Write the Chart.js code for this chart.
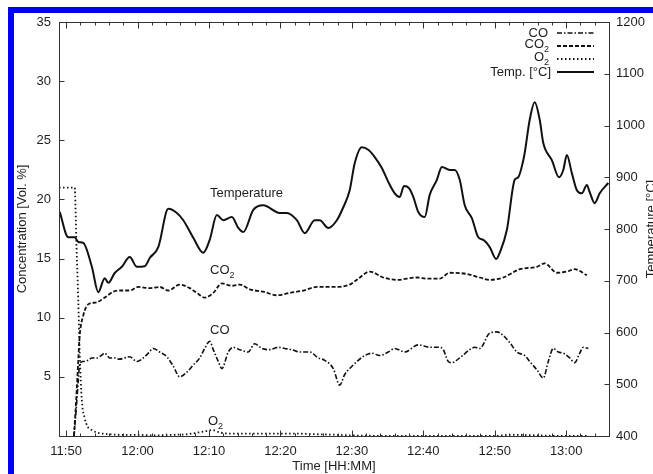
<!DOCTYPE html>
<html><head><meta charset="utf-8">
<script src="https://cdn.jsdelivr.net/npm/chart.js@4.4.1/dist/chart.umd.min.js"></script>
<style>
html,body{margin:0;padding:0;background:#fff;overflow:hidden}
#wrap{position:relative;width:653px;height:474px;background:#fff}
canvas{position:absolute;left:0;top:0}
.bl{position:absolute;left:8px;top:7px;width:6px;height:467px;background:#0000f2}
.bt{position:absolute;left:8px;top:7px;width:645px;height:6px;background:#0000f2}
</style></head><body>
<div id="wrap"><canvas id="c" width="653" height="474"></canvas><div class="bl"></div><div class="bt"></div></div>
<script>
// minutes after 11:50
const xTickValues = [0,10,20,30,40,50,60,70];
const xTickLabels = ['11:50','12:00','12:10','12:20','12:30','12:40','12:50','13:00'];
const leftTickValues = [5,10,15,20,25,30,35];
const rightTickValues = [400,500,600,700,800,900,1000,1100,1200];

const tempMinutes = [-0.9,0.3,1.2,1.7,2.4,3.6,4.5,5.4,5.9,6.8,7.8,8.9,9.9,11.0,11.7,12.9,14.3,15.5,16.4,17.8,19.2,20.1,21.1,22.0,23.2,24.1,24.8,26.2,27.6,29.9,30.9,32.3,33.4,34.8,35.5,36.7,37.9,38.8,39.7,40.4,41.4,42.3,43.2,44.2,45.1,46.0,46.7,47.3,48.0,48.6,49.3,50.2,50.9,51.9,52.6,53.7,54.4,55.1,55.8,56.8,57.7,58.4,59.3,60.2,60.7,61.7,62.8,63.3,64.0,64.2,64.9,65.6,66.3,66.8,68.0,69.0,69.6,70.1,70.8,71.5,72.2,72.9,73.3,74.0,74.7,75.9];
const tempValues = [833,784,784,775,773,727,678,705,696,715,727,746,727,728,744,765,839,831,817,783,754,779,827,817,823,802,794,837,846,831,831,817,792,817,817,802,817,842,875,927,958,953,939,918,891,869,862,883,879,862,833,823,866,895,920,914,914,895,846,821,784,779,765,742,754,798,895,900,933,947,1011,1045,1011,966,933,900,914,943,908,875,869,885,871,850,869,889];

const co2Minutes = [1.1,1.4,1.7,1.9,2.4,2.8,3.3,4.3,5.4,6.6,7.5,8.9,10.1,11.7,13.1,14.3,15.9,17.3,18.3,19.4,20.6,21.8,23.2,24.3,25.7,27.6,29.5,31.3,33.2,35.1,37.4,39.7,40.7,42.5,44.4,46.3,49.1,50.5,52.3,53.7,56.1,57.9,59.3,61.2,63.5,65.9,67.0,68.7,70.1,71.2,72.9];
const co2Values = [0,3.0,6.4,8.5,10.2,10.9,11.2,11.3,11.7,12.2,12.3,12.3,12.6,12.5,12.6,12.3,12.8,12.5,12.1,11.7,12.1,12.9,12.7,12.8,12.4,12.2,11.9,12.1,12.3,12.6,12.6,12.8,13.2,13.9,13.4,13.2,13.4,13.3,13.3,13.8,13.7,13.4,13.2,13.4,14.1,14.3,14.6,13.8,13.9,14.1,13.6];

const coMinutes = [1.1,1.4,1.7,1.9,2.4,3.1,3.6,4.3,4.9,5.4,6.1,6.8,7.5,8.2,8.9,9.9,10.8,11.5,12.2,13.1,14.1,15.0,15.9,16.9,17.8,18.7,19.4,20.1,20.6,21.3,21.8,22.7,23.4,24.3,25.5,26.4,27.4,28.5,29.7,30.6,31.6,32.7,34.1,35.3,36.2,37.4,38.3,39.0,39.7,40.9,41.8,42.8,43.9,45.1,46.0,47.4,49.3,50.9,52.3,52.8,53.5,54.0,55.1,56.5,57.2,57.9,59.3,60.3,61.0,62.1,63.1,64.2,64.9,65.9,66.8,67.5,68.2,68.9,69.6,70.5,71.2,71.9,72.4,73.1];
const coValues = [0,2.2,4.7,6.1,6.3,6.4,6.6,6.6,6.8,7.0,6.6,6.6,6.5,6.6,6.7,6.3,6.6,7.0,7.4,7.1,6.7,5.9,5.0,5.4,6.0,6.6,7.4,8.0,7.3,6.3,5.7,7.1,7.5,7.3,7.1,7.8,7.4,7.3,7.5,7.4,7.3,7.1,7.1,6.6,6.4,5.7,4.3,5.2,5.7,6.4,6.8,7.0,6.8,7.1,7.4,7.1,7.7,7.5,7.5,7.3,6.3,6.2,6.6,7.3,7.5,7.4,8.7,8.8,8.6,7.9,7.1,6.8,6.3,5.6,4.9,6.3,7.4,7.1,7.0,6.6,6.2,7.0,7.5,7.4];

const o2Minutes = [-1,1.2,1.45,1.7,1.9,2.2,2.6,3.0,3.6,4.3,6,8,10,12,15,17,18.5,19.5,20.5,21.5,23,26,29,32,35,38,40,50,60,62,70,73];
const o2Values = [21,21,16,11.5,7,3,1.5,0.8,0.5,0.3,0.15,0.1,0.1,0.05,0.1,0.15,0.3,0.4,0.5,0.3,0.2,0.2,0.2,0.2,0.15,0.1,0.05,0,0,0.1,0,0];

const FONT = 'Liberation Sans, Arial, Helvetica, sans-serif';
const TXT = '#1e1e1e';
const LINE = '#111111';
const pts = (xs, ys) => xs.map((t, i) => ({x: t, y: ys[i]}));

const dashCO = [5,2,1.5,2];
const dashCO2 = [4,2];
const dashO2 = [1.5,2.5];

function drawSubText(ctx, main, sub, xPos, y, align) {
  ctx.font = '13px ' + FONT;
  const wm = ctx.measureText(main).width;
  ctx.font = '9px ' + FONT;
  const ws = sub ? ctx.measureText(sub).width : 0;
  const x0 = align === 'right' ? xPos - wm - ws : xPos;
  ctx.textAlign = 'left';
  ctx.textBaseline = 'middle';
  ctx.font = '13px ' + FONT;
  ctx.fillText(main, x0, sub ? y - 2 : y);
  if (sub) { ctx.font = '9px ' + FONT; ctx.fillText(sub, x0 + wm, y + 4); }
}

const framePlugin = {
  id: 'frame',
  afterDatasetsDraw(chart) {
    const {ctx, chartArea: a, scales} = chart;
    const x = scales.x, y = scales.y, y2 = scales.y2;
    ctx.save();
    ctx.strokeStyle = '#333';
    ctx.lineWidth = 1;
    const L = Math.round(a.left) + 0.5, R = Math.round(a.right) + 0.5, T = Math.round(a.top) + 0.5, B = Math.round(a.bottom) + 0.5;
    ctx.strokeRect(L, T, R - L, B - T);
    ctx.beginPath();
    for (let m = 0; m <= 74; m += 2) {
      const px = Math.round(x.getPixelForValue(m)) + 0.5;
      const len = m % 10 === 0 ? 6 : 3;
      ctx.moveTo(px, B); ctx.lineTo(px, B - len);
      ctx.moveTo(px, T); ctx.lineTo(px, T + len);
    }
    leftTickValues.forEach(v => { const py = Math.round(y.getPixelForValue(v)) + 0.5; ctx.moveTo(L, py); ctx.lineTo(L + 5, py); });
    rightTickValues.forEach(v => { const py = Math.round(y2.getPixelForValue(v)) + 0.5; ctx.moveTo(R, py); ctx.lineTo(R - 5, py); });
    ctx.stroke();

    // legend
    ctx.fillStyle = TXT;
    const rows = [
      {main: 'CO', sub: '', dash: dashCO, w: 1.6, y: 33},
      {main: 'CO', sub: '2', dash: dashCO2, w: 1.8, y: 46},
      {main: 'O', sub: '2', dash: dashO2, w: 1.8, y: 59},
      {main: 'Temp. [°C]', sub: '', dash: [], w: 2, y: 72}
    ];
    rows.forEach(r => {
      drawSubText(ctx, r.main, r.sub, r.sub ? 549 : (r.main === 'CO' ? 548 : 551), r.y, 'right');
      ctx.beginPath();
      ctx.setLineDash(r.dash);
      ctx.lineWidth = r.w;
      ctx.strokeStyle = LINE;
      ctx.moveTo(557, r.y); ctx.lineTo(594, r.y);
      ctx.stroke();
    });
    ctx.setLineDash([]);

    // in-plot labels
    const lx = x.getPixelForValue(20);
    drawSubText(ctx, 'Temperature', '', lx + 1, 193, 'left');
    drawSubText(ctx, 'CO', '2', lx + 1, 272, 'left');
    drawSubText(ctx, 'CO', '', lx + 1, 330, 'left');
    drawSubText(ctx, 'O', '2', lx - 1, 423, 'left');

    // axis titles
    ctx.font = '13px ' + FONT;
    ctx.textAlign = 'center';
    ctx.textBaseline = 'middle';
    ctx.fillText('Time [HH:MM]', (a.left + a.right) / 2, 466);
    ctx.save();
    ctx.translate(22, (a.top + a.bottom) / 2);
    ctx.rotate(-Math.PI / 2);
    ctx.fillText('Concentration [Vol. %]', 0, 0);
    ctx.restore();
    ctx.save();
    ctx.translate(651, (a.top + a.bottom) / 2);
    ctx.rotate(-Math.PI / 2);
    ctx.fillText('Temperature [°C]', 0, 0);
    ctx.restore();
    ctx.restore();
  }
};

const tickFont = {family: FONT, size: 13};
const plain = (v) => String(v);
const noGrid = {display: false, drawTicks: false};

new Chart(document.getElementById('c'), {
  type: 'line',
  data: {
    datasets: [
      {label: 'Temp. [°C]', data: pts(tempMinutes, tempValues), yAxisID: 'y2', borderColor: LINE, borderWidth: 2, pointRadius: 0, cubicInterpolationMode: 'monotone'},
      {label: 'CO2', data: pts(co2Minutes, co2Values), yAxisID: 'y', borderColor: LINE, borderWidth: 1.8, borderDash: dashCO2, pointRadius: 0, cubicInterpolationMode: 'monotone'},
      {label: 'CO', data: pts(coMinutes, coValues), yAxisID: 'y', borderColor: LINE, borderWidth: 1.6, borderDash: dashCO, pointRadius: 0, cubicInterpolationMode: 'monotone'},
      {label: 'O2', data: pts(o2Minutes, o2Values), yAxisID: 'y', borderColor: LINE, borderWidth: 1.8, borderDash: dashO2, pointRadius: 0, cubicInterpolationMode: 'monotone'}
    ]
  },
  options: {
    responsive: false,
    animation: false,
    devicePixelRatio: 1,
    layout: {padding: {top: 22, left: 0, right: 0, bottom: 0}},
    plugins: {legend: {display: false}, tooltip: {enabled: false}},
    scales: {
      x: {
        type: 'linear', min: -1, max: 76,
        grid: noGrid, border: {display: false},
        ticks: {font: tickFont, color: TXT, padding: 8, maxRotation: 0, autoSkip: false,
          callback: (v) => { const i = xTickValues.indexOf(v); return i >= 0 ? xTickLabels[i] : ''; }},
        afterBuildTicks: (s) => { s.ticks = xTickValues.map(v => ({value: v})); },
        afterFit: (s) => { s.height = 38; }
      },
      y: {
        position: 'left', min: 0, max: 35,
        grid: noGrid, border: {display: false},
        ticks: {font: tickFont, color: TXT, padding: 8, callback: plain},
        afterBuildTicks: (s) => { s.ticks = leftTickValues.map(v => ({value: v})); },
        afterFit: (s) => { s.width = 59; }
      },
      y2: {
        position: 'right', min: 400, max: 1200,
        grid: noGrid, border: {display: false},
        ticks: {font: tickFont, color: TXT, padding: 7, callback: plain},
        afterBuildTicks: (s) => { s.ticks = rightTickValues.map(v => ({value: v})); },
        afterFit: (s) => { s.width = 44; }
      }
    }
  },
  plugins: [framePlugin]
});
</script></body></html>
